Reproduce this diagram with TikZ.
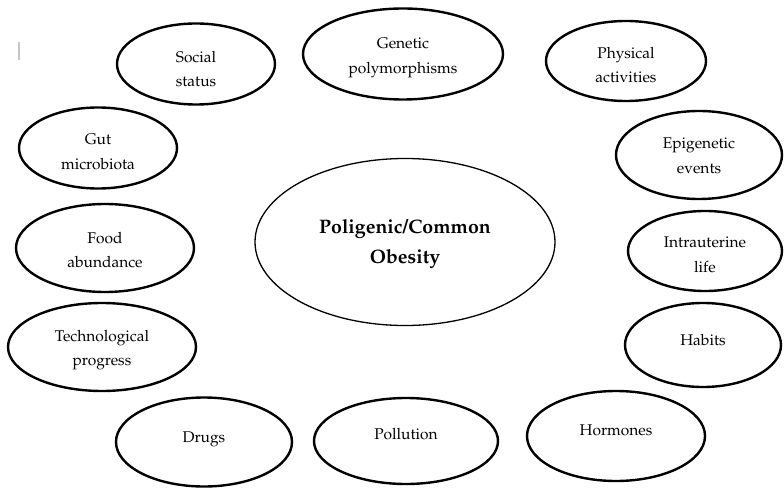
\documentclass[tikz,border=0pt]{standalone}
\usepackage[T1]{fontenc}
\usepackage{mathpazo}
\usetikzlibrary{shapes.geometric}
\tikzset{
  factor/.style={ellipse, draw, line width=2.4pt, inner sep=0pt},
  core/.style={ellipse, draw, line width=1.3pt, inner sep=0pt},
  factortext/.style={align=center, inner sep=0pt, font=\fontsize{15.5}{24.5}\selectfont},
  coretext/.style={align=center, inner sep=0pt, font=\bfseries\fontsize{19.5}{29.5}\selectfont},
}
\begin{document}
\begin{tikzpicture}[x=1pt,y=-1pt]
\useasboundingbox (0,0) rectangle (784,489);

% central topic
\node[core, minimum width=300pt, minimum height=167pt] (obesity) at (405,242) {};
\node[coretext] (obesity-t) at ([yshift=-2pt]obesity.center) {Poligenic/Common\\Obesity};

% surrounding factors, clockwise from top left
\node[factor, minimum width=158pt, minimum height=81pt] (social) at (196,64) {};
\node[factor, minimum width=200pt, minimum height=91pt] (genetic) at (403,54) {};
\node[factor, minimum width=160pt, minimum height=80pt] (physical) at (626,61) {};
\node[factor, minimum width=166pt, minimum height=88pt] (epigenetic) at (699,155) {};
\node[factor, minimum width=154pt, minimum height=80pt] (intrauterine) at (705,251) {};
\node[factor, minimum width=156pt, minimum height=84pt] (habits) at (703,345) {};
\node[factor, minimum width=178pt, minimum height=90pt] (hormones) at (616,436) {};
\node[factor, minimum width=184pt, minimum height=86pt] (pollution) at (406,441) {};
\node[factor, minimum width=176pt, minimum height=89pt] (drugs) at (204,442) {};
\node[factor, minimum width=188pt, minimum height=88pt] (techno) at (102,347) {};
\node[factor, minimum width=178pt, minimum height=88pt] (food) at (105,248) {};
\node[factor, minimum width=158pt, minimum height=81pt] (gut) at (98,148) {};

% factor labels
\node[factortext] (social-t) at ([yshift=-5pt]social.center) {Social\\status};
\node[factortext] (genetic-t) at ([yshift=-4pt]genetic.center) {Genetic\\polymorphisms};
\node[factortext] (physical-t) at ([yshift=-4pt]physical.center) {Physical\\activities};
\node[factortext] (epigenetic-t) at ([yshift=-1pt]epigenetic.center) {Epigenetic\\events};
\node[factortext] (intrauterine-t) at ([yshift=-4pt]intrauterine.center) {Intrauterine\\life};
\node[factortext] (habits-t) at ([yshift=5pt]habits.center) {Habits};
\node[factortext] (hormones-t) at ([yshift=6pt]hormones.center) {Hormones};
\node[factortext] (pollution-t) at ([yshift=7pt]pollution.center) {Pollution};
\node[factortext] (drugs-t) at ([yshift=3pt]drugs.center) {Drugs};
\node[factortext] (techno-t) at ([yshift=-3pt]techno.center) {Technological\\progress};
\node[factortext] (food-t) at ([yshift=-2pt]food.center) {Food\\abundance};
\node[factortext] (gut-t) at ([yshift=-4pt]gut.center) {Gut\\microbiota};

% small stray mark at the top left
\draw[gray!45, line width=1.3pt] (19,42) -- (19,60);
\end{tikzpicture}
\end{document}
